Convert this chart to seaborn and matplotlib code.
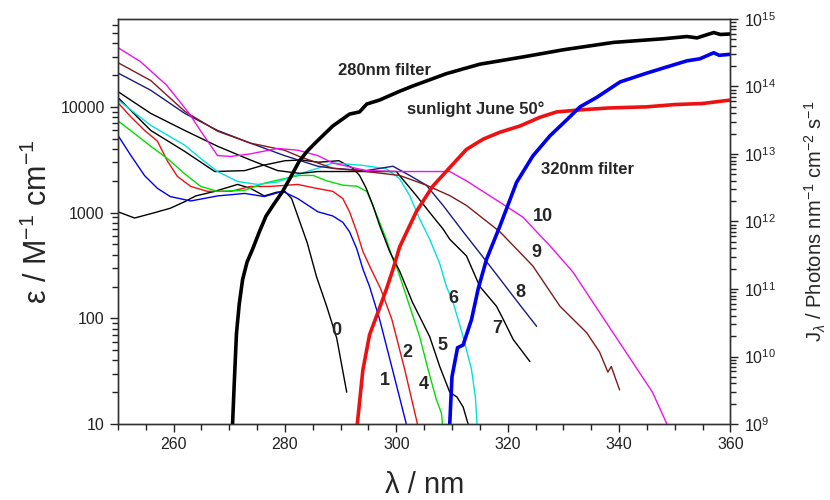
import pandas as pd
import matplotlib
matplotlib.use("Agg")
import matplotlib.pyplot as plt
import matplotlib.ticker as mticker
import seaborn as sns

# absorption spectra, epsilon in M^-1 cm^-1
wl_0 = [250, 253, 256, 259.4, 262, 264, 267.4, 271.5, 273.8, 276.3, 278.5, 280, 281.2, 282.4, 284, 285.7, 287.5, 289.3, 291.1]
eps_0 = [1020, 890, 980, 1100, 1270, 1440, 1590, 1850, 1700, 1440, 1560, 1590, 1360, 900, 520, 245, 130, 65, 20]

wl_1 = [250, 252.3, 254.8, 257.1, 259.4, 263.1, 267.9, 272.8, 276.3, 279.6, 282.3, 285.9, 288.6, 290.4, 291.6, 292.9, 294.0, 295.2, 297.0, 299.3, 301.8]
eps_1 = [5400, 3500, 2240, 1700, 1420, 1290, 1440, 1520, 1420, 1590, 1360, 1020, 930, 810, 660, 455, 293, 200, 98, 33, 10]

wl_2 = [250, 252.3, 254.8, 257.1, 258.9, 260.7, 263.1, 266.1, 270.3, 273.8, 277.4, 282.3, 285.6, 288.6, 290.4, 291.6, 292.9, 294.0, 295.5, 297.2, 299.2, 301.5, 303.8]
eps_2 = [11000, 8100, 6000, 4750, 3080, 2200, 1770, 1590, 1590, 1770, 1770, 1850, 1700, 1590, 1360, 1020, 660, 430, 290, 190, 98, 33, 10]

wl_4 = [250, 253, 255.9, 258.9, 262, 264.9, 267.9, 272.8, 276.3, 279.9, 282.6, 285.1, 287.5, 290.4, 292.9, 294.7, 295.8, 297.0, 298.2, 299.4, 300.2, 302.4, 304.2, 305.7, 307.2, 308.1, 308.3]
eps_4 = [7400, 5600, 4250, 3250, 2330, 1770, 1590, 1630, 1900, 2100, 2250, 2250, 2000, 1820, 1780, 1590, 1170, 810, 560, 360, 293, 130, 67, 33, 17, 12.7, 10]

wl_5 = [250, 255.9, 262, 267.4, 272.8, 276, 280, 283, 286, 289.7, 292.2, 293.4, 294.6, 295.8, 297, 298.8, 300.6, 302.9, 306, 307.8, 309.6, 310.9, 312, 312.9]
eps_5 = [12300, 6000, 3800, 2450, 2500, 2800, 3100, 3150, 3000, 3100, 2630, 2250, 1700, 1170, 760, 430, 280, 142, 67, 35, 20, 18, 14.5, 10]

wl_6 = [250, 255.9, 262, 264.9, 267.9, 271.5, 275.1, 278.7, 282.8, 285.9, 288.6, 294, 298.2, 300.6, 302.4, 304.2, 306, 307.8, 309, 310.2, 312, 313.5, 314.2, 314.5]
eps_6 = [11700, 6700, 4350, 3250, 2450, 1970, 1850, 1950, 2350, 2630, 2950, 2800, 2600, 2100, 1450, 870, 560, 330, 200, 142, 67, 33, 18, 10]

wl_7 = [250, 255.9, 262, 267.9, 273.8, 278.7, 282.8, 285.9, 290, 295, 300, 303.6, 306.5, 308.4, 309.6, 312.6, 315, 318, 319.2, 321, 324]
eps_7 = [14000, 8700, 6000, 4250, 3150, 2500, 2350, 2450, 2450, 2450, 2450, 1450, 930, 700, 560, 390, 200, 130, 98, 63, 39]

wl_8 = [250, 255.9, 262, 267.9, 273.8, 279.9, 285.9, 288.6, 294.6, 299.4, 302.4, 305.4, 308.4, 312, 315, 318, 321.6, 325.2]
eps_8 = [21000, 14400, 8700, 6000, 4550, 3470, 2750, 2630, 2500, 2750, 2250, 1820, 1170, 660, 415, 260, 147, 84]

wl_9 = [250, 255.9, 262, 267.9, 273.8, 279.9, 282.6, 288.6, 294.6, 300.6, 305.4, 309.6, 312.6, 318.6, 324.5, 329.4, 334.2, 336.5, 338, 338.6, 340.1]
eps_9 = [26300, 17800, 9100, 5900, 4550, 3900, 3400, 2630, 2450, 2250, 1820, 1450, 1170, 660, 314, 130, 73, 48, 31, 35, 21]

wl_10 = [250, 254, 258.7, 262.8, 264.9, 267.9, 270.3, 273.8, 278.7, 282.3, 285.9, 288.6, 294.6, 300.6, 309.6, 312.6, 320.4, 322.7, 327.6, 331.7, 336.5, 342.5, 346, 348.6]
eps_10 = [36500, 27000, 16200, 8700, 5900, 3470, 3400, 3600, 4050, 3900, 3470, 2950, 2500, 2450, 2450, 2000, 1090, 910, 485, 275, 114, 38, 20, 10]

# photon flux J, photons nm^-1 cm^-2 s^-1
wl_f280 = [270.6, 270.9, 271.3, 271.8, 272.4, 273.2, 274.2, 275.4, 276.6, 278.0, 279.6, 281.0, 282.6, 284.0, 285.6, 288.6, 291.6, 293.4, 294.7, 297.0, 300.6, 303, 309, 315, 323.4, 330, 339, 348, 352.2, 354, 357, 358.2, 360]
j_f280 = [1e9, 4e9, 2.2e10, 6e10, 1.38e11, 2.5e11, 3.9e11, 7e11, 1.2e12, 1.8e12, 2.8e12, 4.5e12, 7.9e12, 1.1e13, 1.5e13, 2.6e13, 3.9e13, 4.2e13, 5.5e13, 6.3e13, 8.5e13, 1.02e14, 1.55e14, 2.14e14, 2.8e14, 3.5e14, 4.5e14, 5.1e14, 5.5e14, 5.25e14, 6.3e14, 5.9e14, 6.0e14]

wl_sun = [293, 294, 295.2, 296.7, 298.2, 299.4, 300.6, 303.6, 306.5, 309.6, 312.6, 315.6, 318.6, 322.2, 325.8, 328.8, 333, 338, 345, 350, 355, 360]
j_sun = [1e9, 6.3e9, 2.1e10, 4.5e10, 9.8e10, 1.95e11, 4.2e11, 1.4e12, 3.3e12, 6.3e12, 1.17e13, 1.66e13, 2.1e13, 2.6e13, 3.5e13, 4.2e13, 4.5e13, 4.8e13, 5.0e13, 5.4e13, 5.6e13, 6.3e13]

wl_f320 = [309.6, 310, 311, 312, 313.5, 314.7, 316.2, 318.6, 321.6, 324.5, 327.6, 330.6, 333, 336, 340.2, 345, 348.6, 352.2, 354.5, 357, 358, 360]
j_f320 = [1e9, 5e9, 1.35e10, 1.48e10, 3.5e10, 1e11, 2.75e11, 8.5e11, 3.8e12, 9.3e12, 1.86e13, 3.2e13, 5e13, 6.9e13, 1.17e14, 1.58e14, 1.95e14, 2.4e14, 2.57e14, 3.16e14, 2.9e14, 3.0e14]

curve_names = ["0", "1", "2", "4", "5", "6", "7", "8", "9", "10"]
curve_wl = [wl_0, wl_1, wl_2, wl_4, wl_5, wl_6, wl_7, wl_8, wl_9, wl_10]
curve_eps = [eps_0, eps_1, eps_2, eps_4, eps_5, eps_6, eps_7, eps_8, eps_9, eps_10]
curve_colors = ["black", "#0000ee", "#ee1111", "#00dd00", "black", "#00e0e0",
                "black", "#1a1a80", "#801a1a", "#ee11ee"]

# where the curve numbers sit (wavelength, epsilon)
label_xy = {"0": (289.3, 77), "1": (297.9, 26), "2": (302.0, 48), "4": (304.9, 23.5),
            "5": (308.3, 55), "6": (310.3, 155), "7": (318.2, 80), "8": (322.3, 177),
            "9": (325.2, 417), "10": (326.3, 915)}

light_names = ["280nm filter", "sunlight June 50°", "320nm filter"]
light_wl = [wl_f280, wl_sun, wl_f320]
light_j = [j_f280, j_sun, j_f320]
light_colors = ["black", "#ee1111", "#0000ee"]

eps_df = pd.concat([pd.DataFrame({"wl": w, "eps": e, "curve": n})
                    for n, w, e in zip(curve_names, curve_wl, curve_eps)], ignore_index=True)
light_df = pd.concat([pd.DataFrame({"wl": w, "J": j, "source": n})
                      for n, w, j in zip(light_names, light_wl, light_j)], ignore_index=True)

sns.set_theme(style="ticks")
plt.rcParams["font.family"] = ["Liberation Sans", "DejaVu Sans"]
plt.rcParams["mathtext.fontset"] = "custom"
plt.rcParams["mathtext.rm"] = "Liberation Sans"
plt.rcParams["mathtext.it"] = "Liberation Sans:italic"
plt.rcParams["mathtext.bf"] = "Liberation Sans:bold"
plt.rcParams["axes.edgecolor"] = "#333333"
plt.rcParams["axes.linewidth"] = 1.0
plt.rcParams["xtick.minor.visible"] = True
plt.rcParams["ytick.minor.visible"] = True

fig = plt.figure(figsize=(8.3, 5.0), dpi=100)
ax = fig.add_axes([0.142, 0.152, 0.738, 0.810])
ax.set_yscale("log")
ax2 = ax.twinx()
ax2.set_yscale("log")

sns.lineplot(data=eps_df, x="wl", y="eps", hue="curve", hue_order=curve_names,
             palette=dict(zip(curve_names, curve_colors)), estimator=None, sort=False,
             legend=False, linewidth=1.0, ax=ax)
sns.lineplot(data=light_df, x="wl", y="J", hue="source", hue_order=light_names,
             palette=dict(zip(light_names, light_colors)), estimator=None, sort=False,
             legend=False, linewidth=2.6, ax=ax2)

ax.set_xlim(250, 360)
ax.set_ylim(10, 68000)
ax2.set_ylim(1e9, 1e15)
ax2.set_xlabel("")

ax.xaxis.set_major_locator(mticker.FixedLocator([260, 280, 300, 320, 340, 360]))
ax.xaxis.set_minor_locator(mticker.FixedLocator(list(range(250, 361, 5))))
ax.yaxis.set_major_locator(mticker.LogLocator(base=10, numticks=10))
ax.yaxis.set_minor_locator(mticker.LogLocator(base=10, subs=range(2, 10), numticks=10))
ax.yaxis.set_major_formatter(mticker.FuncFormatter(lambda v, p: f"{v:g}"))
ax.yaxis.set_minor_formatter(mticker.NullFormatter())
ax2.yaxis.set_major_locator(mticker.LogLocator(base=10, numticks=10))
ax2.yaxis.set_minor_locator(mticker.LogLocator(base=10, subs=range(2, 10), numticks=10))
ax2.yaxis.set_minor_formatter(mticker.NullFormatter())
for a in (ax, ax2):
    a.xaxis.get_offset_text().set_visible(False)
    a.yaxis.get_offset_text().set_visible(False)

for a in (ax, ax2):
    a.tick_params(which="major", direction="out", length=6, width=1, labelsize=11.5,
                  colors="#222222")
    a.tick_params(which="minor", direction="out", length=4, width=1, color="#222222")

ax.set_xlabel("λ / nm", fontsize=21)
ax.xaxis.set_label_coords(0.5, -0.115)
ax.set_ylabel("ε / M$^{-1}$ cm$^{-1}$", fontsize=22)
ax.yaxis.set_label_coords(-0.105, 0.5)
ax2.set_ylabel(r"J$_\lambda$ / Photons nm$^{-1}$ cm$^{-2}$ s$^{-1}$", fontsize=14.5)
ax2.yaxis.set_label_coords(1.118, 0.5)

for name, (x, y) in label_xy.items():
    ax.text(x, y, name, fontsize=13, fontweight="bold", ha="center", va="center")

ax.text(297.9, 22000, "280nm filter", fontsize=12, fontweight="bold", ha="center", va="center")
ax.text(314.3, 9550, "sunlight June 50°", fontsize=12, fontweight="bold", ha="center", va="center")
ax.text(334.4, 2570, "320nm filter", fontsize=12, fontweight="bold", ha="center", va="center")

fig.savefig("out.png", dpi=100)
